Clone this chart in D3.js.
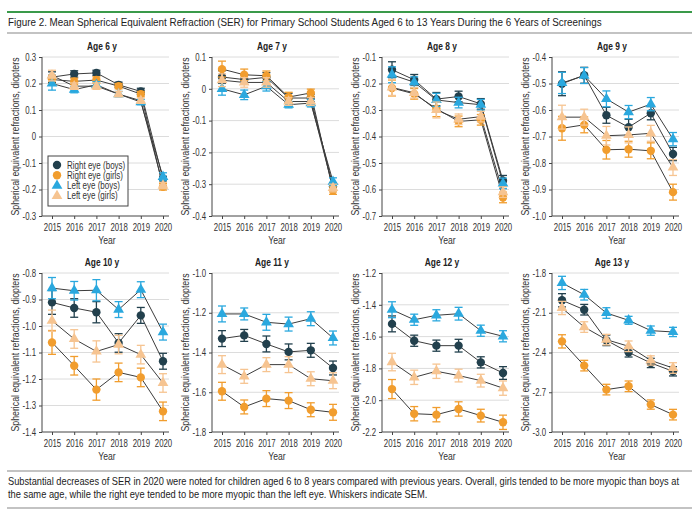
<!DOCTYPE html>
<html>
<head>
<meta charset="utf-8">
<script src="https://cdn.jsdelivr.net/npm/d3@7"></script>
<style>
  body { margin: 0; background: #fff; }
  svg { font-family: "Liberation Sans", Arial, sans-serif; }
</style>
</head>
<body>
<svg id="chart" width="699" height="517"></svg>
<script>
// years on the x axis, one panel per age
var years = [2015, 2016, 2017, 2018, 2019, 2020];
var ages = [6, 7, 8, 9, 10, 11, 12, 13];
var seriesNames = ["Right eye (boys)", "Right eye (girls)", "Left eye (boys)", "Left eye (girls)"];

// mean SER per age (rows) and year (columns)
var rightBoys = [
  [0.224, 0.236, 0.240, 0.195, 0.170, -0.162],
  [0.037, 0.029, 0.036, -0.029, -0.029, -0.307],
  [-0.148, -0.186, -0.259, -0.249, -0.277, -0.567],
  [-0.501, -0.469, -0.620, -0.665, -0.612, -0.766],
  [-0.911, -0.932, -0.948, -1.064, -0.960, -1.133],
  [-1.330, -1.314, -1.357, -1.397, -1.389, -1.478],
  [-1.520, -1.626, -1.657, -1.657, -1.762, -1.829],
  [-2.006, -2.077, -2.308, -2.399, -2.479, -2.542]
];
var rightGirls = [
  [0.215, 0.208, 0.213, 0.190, 0.160, -0.190],
  [0.062, 0.044, 0.041, -0.026, -0.013, -0.320],
  [-0.217, -0.239, -0.295, -0.343, -0.337, -0.630],
  [-0.669, -0.656, -0.750, -0.748, -0.754, -0.910],
  [-1.062, -1.150, -1.240, -1.175, -1.194, -1.322],
  [-1.595, -1.674, -1.632, -1.642, -1.688, -1.701],
  [-1.930, -2.085, -2.091, -2.055, -2.097, -2.139],
  [-2.316, -2.499, -2.680, -2.655, -2.793, -2.869]
];
var leftBoys = [
  [0.200, 0.177, 0.195, 0.160, 0.130, -0.152],
  [0.000, -0.019, 0.008, -0.050, -0.045, -0.292],
  [-0.167, -0.195, -0.262, -0.272, -0.280, -0.577],
  [-0.498, -0.470, -0.558, -0.608, -0.578, -0.710],
  [-0.857, -0.867, -0.865, -0.938, -0.863, -1.023],
  [-1.206, -1.206, -1.248, -1.257, -1.230, -1.327],
  [-1.431, -1.494, -1.466, -1.456, -1.563, -1.598],
  [-1.875, -1.964, -2.102, -2.157, -2.235, -2.245]
];
var leftGirls = [
  [0.230, 0.190, 0.190, 0.160, 0.135, -0.185],
  [0.027, 0.020, 0.020, -0.040, -0.040, -0.312],
  [-0.215, -0.235, -0.300, -0.335, -0.325, -0.610],
  [-0.627, -0.627, -0.697, -0.694, -0.688, -0.817],
  [-0.980, -1.049, -1.096, -1.070, -1.108, -1.215],
  [-1.461, -1.520, -1.461, -1.461, -1.532, -1.542],
  [-1.760, -1.856, -1.818, -1.845, -1.877, -1.924],
  [-2.064, -2.208, -2.303, -2.353, -2.460, -2.517]
];

// standard errors (whiskers)
var semRightBoys = [
  [0.020, 0.012, 0.010, 0.010, 0.012, 0.012],
  [0.020, 0.015, 0.015, 0.015, 0.012, 0.012],
  [0.030, 0.020, 0.025, 0.020, 0.020, 0.020],
  [0.045, 0.030, 0.030, 0.030, 0.025, 0.025],
  [0.045, 0.035, 0.040, 0.035, 0.030, 0.030],
  [0.040, 0.030, 0.040, 0.040, 0.035, 0.035],
  [0.050, 0.035, 0.035, 0.040, 0.035, 0.040],
  [0.050, 0.040, 0.040, 0.035, 0.035, 0.035]
];
var semRightGirls = [
  [0.015, 0.012, 0.012, 0.010, 0.010, 0.012],
  [0.025, 0.018, 0.015, 0.015, 0.012, 0.012],
  [0.030, 0.020, 0.030, 0.020, 0.020, 0.020],
  [0.045, 0.030, 0.035, 0.030, 0.030, 0.030],
  [0.045, 0.035, 0.040, 0.035, 0.035, 0.035],
  [0.045, 0.035, 0.040, 0.040, 0.035, 0.040],
  [0.060, 0.045, 0.045, 0.045, 0.040, 0.045],
  [0.050, 0.040, 0.040, 0.040, 0.035, 0.040]
];
var semLeftBoys = [
  [0.025, 0.012, 0.012, 0.010, 0.010, 0.015],
  [0.020, 0.015, 0.015, 0.010, 0.012, 0.012],
  [0.030, 0.020, 0.025, 0.020, 0.020, 0.020],
  [0.040, 0.030, 0.030, 0.025, 0.025, 0.025],
  [0.040, 0.035, 0.040, 0.030, 0.030, 0.030],
  [0.040, 0.030, 0.040, 0.035, 0.035, 0.035],
  [0.050, 0.035, 0.035, 0.040, 0.035, 0.035],
  [0.050, 0.040, 0.040, 0.030, 0.035, 0.035]
];
var semLeftGirls = [
  [0.020, 0.012, 0.012, 0.010, 0.010, 0.012],
  [0.020, 0.015, 0.015, 0.012, 0.012, 0.012],
  [0.030, 0.020, 0.030, 0.020, 0.020, 0.020],
  [0.045, 0.030, 0.035, 0.030, 0.030, 0.030],
  [0.040, 0.035, 0.040, 0.035, 0.035, 0.035],
  [0.045, 0.035, 0.035, 0.040, 0.035, 0.040],
  [0.055, 0.045, 0.045, 0.040, 0.040, 0.045],
  [0.050, 0.040, 0.040, 0.040, 0.035, 0.040]
];

// y axis range and tick step for each panel
var yDomains = [[-0.3, 0.3], [-0.4, 0.1], [-0.7, -0.1], [-1.0, -0.4],
                [-1.4, -0.8], [-1.8, -1.0], [-2.2, -1.2], [-3.0, -1.8]];
var yTickSteps = [0.1, 0.1, 0.1, 0.1, 0.1, 0.2, 0.2, 0.3];

var means = [rightBoys, rightGirls, leftBoys, leftGirls];
var sems = [semRightBoys, semRightGirls, semLeftBoys, semLeftGirls];
var colors = ["#22404d", "#f19d2e", "#2aa8de", "#f6c491"];
var shapes = ["circle", "circle", "triangle", "triangle"];

var svg = d3.select("#chart");
var ink = "#333";

// squeeze text horizontally, the source uses a condensed face
function condense(sel, k) {
  sel.each(function() {
    var w = this.getComputedTextLength();
    d3.select(this).attr("textLength", w * k).attr("lengthAdjust", "spacingAndGlyphs");
  });
}

// one long line, scaled on x so it spans the given width
function wideLine(str, x0, y0, width, size, color) {
  var gg = svg.append("g");
  var t = gg.append("text").style("font-size", size + "px").style("fill", color).text(str);
  var w = t.node().getComputedTextLength();
  gg.attr("transform", "translate(" + x0 + "," + y0 + ") scale(" + (width / w).toFixed(4) + ",1)");
}

// header rules + title
svg.append("line").attr("x1", 7).attr("x2", 692).attr("y1", 12).attr("y2", 12)
  .style("stroke", "#3a9a4a").style("stroke-width", 2);
wideLine("Figure 2. Mean Spherical Equivalent Refraction (SER) for Primary School Students Aged 6 to 13 Years During the 6 Years of Screenings",
         8, 26, 594, 11.5, "#222");
svg.append("line").attr("x1", 7).attr("x2", 692).attr("y1", 33).attr("y2", 33)
  .style("stroke", "#888").style("stroke-width", 1.2);

function fmt(v) {
  if (Math.abs(v) < 1e-9) return "0";
  return d3.format(".1f")(v).replace("−", "-");
}

function symbolPath(shape) {
  return d3.symbol().type(shape === "circle" ? d3.symbolCircle : d3.symbolTriangle)
    .size(shape === "circle" ? 55 : 50)();
}

ages.forEach(function(age, i) {
  var col = i % 4, row = Math.floor(i / 4);
  var left = 42 + col * 170;
  var top = row === 0 ? 57 : 273;
  var h = 159;

  var g = svg.append("g").attr("transform", "translate(" + left + "," + top + ")");

  var x = d3.scaleLinear().domain([2015, 2020]).range([10, 121]);
  var y = d3.scaleLinear().domain(yDomains[i]).range([h, 0]);

  var dom = yDomains[i], step = yTickSteps[i];
  var ticks = d3.range(Math.round((dom[1] - dom[0]) / step) + 1).map(function(k) {
    return +(dom[0] + k * step).toFixed(2);
  });

  // gridlines
  g.selectAll(".grid").data(ticks.slice(1)).enter().append("line")
    .attr("x1", 0).attr("x2", 127)
    .attr("y1", function(d) { return y(d); }).attr("y2", function(d) { return y(d); })
    .style("stroke", "#dcdcdc").style("stroke-width", 1);

  // y axis
  var yAxis = d3.axisLeft(y).tickValues(ticks).tickSize(3).tickFormat(fmt);
  var ya = g.append("g").call(yAxis);
  ya.select(".domain").attr("d", "M0,0V" + h);

  // x axis
  var xAxis = d3.axisBottom(x).tickValues(years).tickSize(3).tickFormat(d3.format("d"));
  var xa = g.append("g").attr("transform", "translate(0," + h + ")").call(xAxis);
  xa.select(".domain").attr("d", "M0,0H127");

  [ya, xa].forEach(function(a) {
    a.selectAll("path, line").style("stroke", "#444");
    a.selectAll("text").style("font-size", "10px").style("fill", ink)
      .style("font-family", "inherit");
    condense(a.selectAll("text"), 0.78);
  });
  xa.selectAll("text").attr("dy", "0.85em");

  // panel title and axis labels
  g.append("text").attr("x", 60).attr("y", -7).attr("text-anchor", "middle")
    .style("font-size", "10.5px").style("font-weight", "bold").style("fill", "#222")
    .text("Age " + age + " y").call(condense, 0.8);
  g.append("text").attr("x", 65).attr("y", h + 28).attr("text-anchor", "middle")
    .style("font-size", "10.5px").style("fill", ink).text("Year").call(condense, 0.82);
  g.append("text")
    .attr("transform", "translate(-23," + (h / 2) + ") rotate(-90)")
    .attr("text-anchor", "middle")
    .style("font-size", "10.5px").style("fill", ink)
    .text("Spherical equivalent refractions, diopters")
    .attr("textLength", 158).attr("lengthAdjust", "spacingAndGlyphs");

  var line = d3.line()
    .x(function(d, j) { return x(years[j]); })
    .y(function(d) { return y(d); });

  // connecting lines
  means.forEach(function(m) {
    g.append("path").datum(m[i]).attr("d", line)
      .style("fill", "none").style("stroke", "#3c3c3c").style("stroke-width", 1);
  });

  // whiskers and markers
  means.forEach(function(m, s) {
    var pts = m[i].map(function(v, j) {
      return { x: x(years[j]), v: v, e: sems[s][i][j] };
    });
    var eb = g.append("g").style("stroke", colors[s]).style("stroke-width", 1.3);
    pts.forEach(function(p) {
      var y1 = y(p.v + p.e), y2 = y(p.v - p.e);
      eb.append("line").attr("x1", p.x).attr("x2", p.x).attr("y1", y1).attr("y2", y2);
      eb.append("line").attr("x1", p.x - 4).attr("x2", p.x + 4).attr("y1", y1).attr("y2", y1);
      eb.append("line").attr("x1", p.x - 4).attr("x2", p.x + 4).attr("y1", y2).attr("y2", y2);
    });
    g.selectAll(".m" + s).data(pts).enter().append("path")
      .attr("d", symbolPath(shapes[s]))
      .attr("transform", function(p) { return "translate(" + p.x + "," + y(p.v) + ")"; })
      .style("fill", colors[s]);
  });

  // legend in first panel
  if (i === 0) {
    var lg = g.append("g").attr("transform", "translate(6,99)");
    lg.append("rect").attr("width", 80).attr("height", 50)
      .style("fill", "#fff").style("stroke", "#444").style("stroke-width", 1);
    seriesNames.forEach(function(name, s) {
      var yy = 9 + s * 10.3;
      lg.append("path").attr("d", symbolPath(shapes[s]))
        .attr("transform", "translate(9," + yy + ")").style("fill", colors[s]);
      lg.append("text").attr("x", 19).attr("y", yy + 3.5)
        .style("font-size", "10px").style("fill", ink).text(name)
        .call(condense, 0.8);
    });
  }
});

// caption
svg.append("line").attr("x1", 7).attr("x2", 692).attr("y1", 471).attr("y2", 471)
  .style("stroke", "#888").style("stroke-width", 1.2);
wideLine("Substantial decreases of SER in 2020 were noted for children aged 6 to 8 years compared with previous years. Overall, girls tended to be more myopic than boys at",
         8, 485, 672, 10, "#222");
wideLine("the same age, while the right eye tended to be more myopic than the left eye. Whiskers indicate SEM.",
         8, 498, 420, 10, "#222");
svg.append("line").attr("x1", 7).attr("x2", 692).attr("y1", 508).attr("y2", 508)
  .style("stroke", "#888").style("stroke-width", 1.2);
</script>
</body>
</html>
